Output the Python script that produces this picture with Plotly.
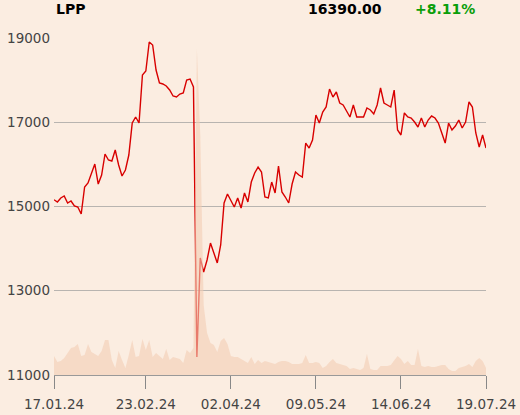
import plotly.graph_objects as go

# daily closing prices, 17.01.24 - 19.07.24 (trading days)
prices = [
    15160, 15107, 15202, 15249, 15083, 15130, 15012, 14988, 14822, 15463,
    15558, 15795, 16009, 15534, 15748, 16246, 16104, 16080, 16341, 15985,
    15724, 15866, 16222, 16982, 17125, 16982, 18122, 18217, 18905, 18834,
    18240, 17932, 17908, 17860, 17766, 17623, 17600, 17670, 17694, 18003,
    18027, 17837, 11427, 13777, 13444, 13730, 14133, 13896, 13659, 14086,
    15083, 15296, 15154, 14988, 15202, 14964, 15320, 15107, 15581, 15795,
    15937, 15819, 15225, 15202, 15581, 15320, 15961, 15344, 15225, 15083,
    15534, 15819, 15748, 15700, 16507, 16388, 16578, 17172, 16982, 17243,
    17362, 17789, 17599, 17718, 17457, 17410, 17267, 17125, 17410, 17125,
    17125, 17125, 17338, 17291, 17196, 17410, 17813, 17457, 17410, 17362,
    17765, 16816, 16697, 17220, 17125, 17101, 17006, 16887, 17101, 16887,
    17053, 17148, 17101, 16982, 16745, 16507, 16982, 16816, 16911, 17053,
    16863, 17006, 17481, 17362, 16745, 16412, 16697, 16390,
]

# daily volume (shares)
volume = [
    1900, 1300, 1400, 1700, 2200, 2700, 2800, 3100, 1900, 2000,
    3100, 2300, 2100, 1900, 2400, 3500, 3500, 1500, 700, 2400,
    1500, 700, 2000, 3500, 1800, 1900, 3600, 2500, 3500, 1800,
    2200, 1900, 1600, 2600, 1500, 1800, 1700, 1600, 1200, 2500,
    2200, 2700, 32600, 24000, 7000, 4200, 3200, 3000, 2300, 3400,
    3700, 3100, 1900, 1800, 1800, 1600, 1400, 1200, 1800, 1100,
    1500, 1200, 1400, 1300, 1200, 1100, 1300, 1400, 1400, 1300,
    1100, 1100, 1100, 1200, 2000, 1200, 1200, 1300, 1200, 700,
    900, 1300, 1600, 1200, 1100, 1000, 900, 600, 700, 600,
    500, 700, 2100, 600, 500, 500, 900, 900, 900, 1000,
    1400, 1900, 1600, 1100, 1400, 1000, 1000, 2600, 900, 800,
    900, 800, 800, 900, 1000, 1000, 600, 400, 400, 700,
    800, 900, 1100, 800, 1400, 1700, 1400, 700,
]

tick_pos = [0, 27, 52, 77, 102, 127]
tick_labels = ["17.01.24", "23.02.24", "02.04.24", "09.05.24", "14.06.24", "19.07.24"]
y_ticks = [11000, 13000, 15000, 17000, 19000]

idx = list(range(len(prices)))

fig = go.Figure()

fig.add_trace(go.Scatter(
    x=idx, y=volume, yaxis="y2",
    mode="lines", fill="tozeroy",
    line=dict(width=0, color="rgba(244,205,180,0.6)"),
    fillcolor="rgba(244,205,180,0.6)",
    hoverinfo="skip",
))

fig.add_trace(go.Scatter(
    x=idx, y=prices,
    mode="lines",
    line=dict(color="#d80000", width=1.4),
))

fig.update_layout(
    width=520, height=415,
    margin=dict(l=54, r=34, t=38, b=40),
    paper_bgcolor="#fbede1",
    plot_bgcolor="#fbede1",
    showlegend=False,
    font=dict(family="DejaVu Sans", size=13.5, color="#444"),
    xaxis=dict(
        range=[0, 127], automargin=False,
        tickvals=tick_pos, ticktext=tick_labels,
        showgrid=False, zeroline=False,
        showline=True, linecolor="#999", linewidth=1,
        ticks="outside", ticklen=13, tickcolor="#888",
        ticklabelstandoff=4,
    ),
    yaxis=dict(
        range=[11000, 19000], automargin=False,
        tickvals=y_ticks, ticktext=[str(v) for v in y_ticks],
        showgrid=True, gridcolor="#b8b4b0", gridwidth=1,
        zeroline=False, ticks="", ticklabelstandoff=3,
    ),
    yaxis2=dict(
        range=[0, 33700], overlaying="y",
        visible=False, showgrid=False,
    ),
    annotations=[
        dict(text="<b>LPP</b>", xref="paper", yref="paper", x=0.0, y=1.085,
             xanchor="left", yanchor="middle", showarrow=False,
             font=dict(size=14, color="#000")),
        dict(text="<b>16390.00</b>", xref="paper", yref="paper", x=0.764, y=1.085,
             xanchor="right", yanchor="middle", showarrow=False,
             font=dict(size=14, color="#000")),
        dict(text="<b>+8.11%</b>", xref="paper", yref="paper", x=0.831, y=1.085,
             xanchor="left", yanchor="middle", showarrow=False,
             font=dict(size=14, color="#0a9e0a")),
    ],
)

# drop the browser's default 8px body margin so the chart sits at the window corner
fig.write_html("out.html", config={"displayModeBar": False},
               post_script="document.body.style.margin='0';")
